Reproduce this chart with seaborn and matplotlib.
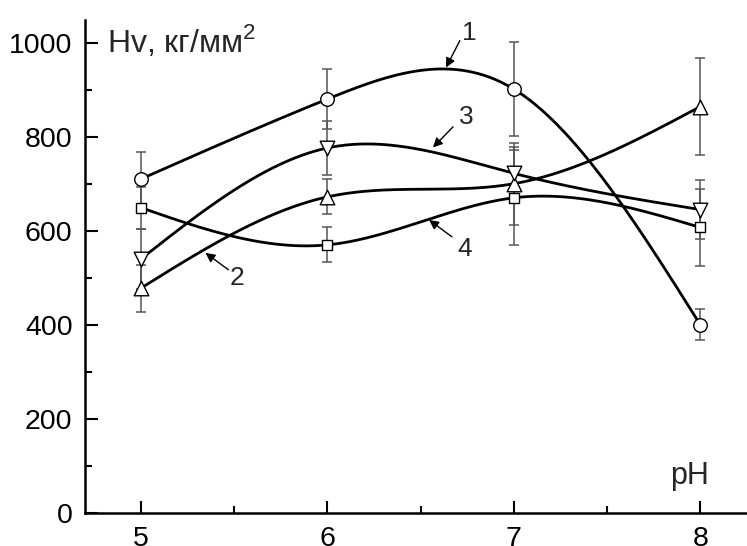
import numpy as np
import matplotlib
matplotlib.use("Agg")
import matplotlib.pyplot as plt
import seaborn as sns
from matplotlib.ticker import MultipleLocator

# pH values
ph = [5, 6, 7, 8]

# Microhardness Hv (kg/mm^2) and error half-widths for each curve
hv_1 = [710, 880, 901, 400]
err_1 = [57, 63, 100, 33]
hv_2 = [478, 672, 700, 864]
err_2 = [50, 37, 87, 104]
hv_3 = [540, 776, 722, 645]
err_3 = [64, 57, 56, 62]
hv_4 = [649, 570, 670, 607]
err_4 = [45, 37, 101, 81]

curve_labels = ["1", "2", "3", "4"]


def natural_spline(x, y, xs):
    """Natural cubic spline through (x, y), evaluated at xs."""
    x = np.asarray(x, float)
    y = np.asarray(y, float)
    n = len(x)
    h = np.diff(x)
    A = np.zeros((n, n))
    b = np.zeros(n)
    A[0, 0] = 1
    A[-1, -1] = 1
    for i in range(1, n - 1):
        A[i, i - 1] = h[i - 1]
        A[i, i] = 2 * (h[i - 1] + h[i])
        A[i, i + 1] = h[i]
        b[i] = 6 * ((y[i + 1] - y[i]) / h[i] - (y[i] - y[i - 1]) / h[i - 1])
    M = np.linalg.solve(A, b)
    out = np.empty_like(xs)
    for k, xv in enumerate(xs):
        i = min(max(np.searchsorted(x, xv) - 1, 0), n - 2)
        t1 = x[i + 1] - xv
        t0 = xv - x[i]
        out[k] = (M[i] * t1 ** 3 / (6 * h[i]) + M[i + 1] * t0 ** 3 / (6 * h[i])
                  + (y[i] / h[i] - M[i] * h[i] / 6) * t1
                  + (y[i + 1] / h[i] - M[i + 1] * h[i] / 6) * t0)
    return out


sns.set_theme(style="white")
plt.rcParams["font.family"] = ["Liberation Sans", "DejaVu Sans"]
plt.rcParams["mathtext.fontset"] = "custom"
plt.rcParams["mathtext.rm"] = "Liberation Sans"

fig = plt.figure(figsize=(7.47, 5.46), dpi=100)
ax = fig.add_axes([85 / 747, 33 / 546, 1 - 85 / 747, (513 - 20) / 546])

series = [
    (hv_1, err_1, "o", 95),
    (hv_2, err_2, "^", 110),
    (hv_3, err_3, "v", 110),
    (hv_4, err_4, "s", 60),
]

xs = np.linspace(ph[0], ph[-1], 400)
for vals, errs, mk, size in series:
    ys = natural_spline(ph, vals, xs)
    sns.lineplot(x=xs, y=ys, ax=ax, color="black", lw=2.0, zorder=2)
    ax.errorbar(ph, vals, yerr=errs, fmt="none", ecolor="#555555",
                elinewidth=1.1, capsize=3.3, capthick=1.1, zorder=1)
    sns.scatterplot(x=ph, y=vals, ax=ax, marker=mk, s=size,
                    facecolor="white", edgecolor="black", linewidth=1.0,
                    zorder=3)

# curve number labels with arrows
arrows = [
    ("1", (6.76, 1021), (6.71, 1004), (6.636, 947)),
    ("2", (5.515, 500), (5.469, 517), (5.346, 553)),
    ("3", (6.745, 842), (6.674, 821), (6.566, 777)),
    ("4", (6.735, 562), (6.668, 587), (6.545, 623)),
]
for lab, tpos, tail, head in arrows:
    ax.text(*tpos, lab, fontsize=19, ha="center", va="center")
    ax.annotate("", xy=head, xytext=tail,
                arrowprops=dict(arrowstyle="-|>", color="black", lw=1.0,
                                mutation_scale=14, shrinkA=0, shrinkB=0))

ax.text(4.82, 1003, "Hv, кг/мм$^2$", fontsize=23, ha="left", va="center")
ax.text(7.94, 78, "pH", fontsize=22, ha="center", va="center")

ax.set_xlim(4.70, 8.25)
ax.set_ylim(0, 1048)
ax.xaxis.set_major_locator(MultipleLocator(1))
ax.xaxis.set_minor_locator(MultipleLocator(0.5))
ax.yaxis.set_major_locator(MultipleLocator(200))
ax.yaxis.set_minor_locator(MultipleLocator(100))

for side in ["top", "right"]:
    ax.spines[side].set_visible(False)
for side in ["left", "bottom"]:
    ax.spines[side].set_linewidth(1.8)
    ax.spines[side].set_color("black")

ax.tick_params(which="major", direction="in", length=9, width=1.5,
               labelsize=20.5, colors="black", pad=9)
ax.tick_params(which="minor", direction="in", length=5, width=1.5,
               colors="black")
ax.tick_params(axis="x", which="both", bottom=True)
ax.tick_params(axis="y", which="both", left=True)
ax.set_xlabel("")
ax.set_ylabel("")

fig.savefig("out.png", dpi=100)
